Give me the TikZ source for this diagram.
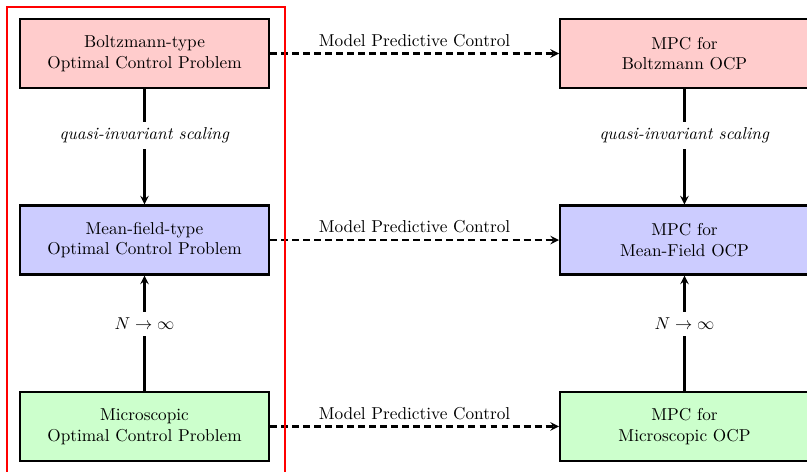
\documentclass[tikz,border=0pt]{standalone}
\usetikzlibrary{positioning}

\begin{document}
\begin{tikzpicture}[>=stealth,
    ocp/.style={draw, very thick, minimum width=5.076cm, minimum height=1.407cm, align=center},
    mpc/.style={->, very thick, dash pattern=on 4pt off 2.4pt},
    lim/.style={very thick}]
    \clip (0,0) rectangle (16.459,-9.606);
    \useasboundingbox (0,0) rectangle (16.459,-9.606);

    % left column
    \node (BoltzOCP) [ocp, fill=red!20] at (2.947,-1.091) {Boltzmann-type\\Optimal Control Problem};
    \node (MeanOCP) [ocp, fill=blue!20] at (2.947,-4.895) {Mean-field-type\\Optimal Control Problem};
    \node (MicroOCP) [ocp, fill=green!20] at (2.947,-8.698) {Microscopic\\Optimal Control Problem};

    % right column
    \node (BoltzMPC) [ocp, fill=red!20] at (13.960,-1.091) {MPC for\\Boltzmann OCP};
    \node (MeanMPC) [ocp, fill=blue!20] at (13.960,-4.895) {MPC for\\Mean-Field OCP};
    \node (MicroMPC) [ocp, fill=green!20] at (13.960,-8.698) {MPC for\\Microscopic OCP};

    % limits
    \draw[->, lim] (BoltzOCP) -- node[pos=0.4, fill=white] {\textit{quasi-invariant scaling}} (MeanOCP);
    \draw[<-, lim] (MeanOCP) -- node[pos=0.42, fill=white] {$N \to \infty$} (MicroOCP);
    \draw[->, lim] (BoltzMPC) -- node[pos=0.4, fill=white] {\textit{quasi-invariant scaling}} (MeanMPC);
    \draw[<-, lim] (MeanMPC) -- node[pos=0.42, fill=white] {$N \to \infty$} (MicroMPC);

    % model predictive control
    \draw[mpc] (BoltzOCP) -- node[above] {Model Predictive Control} (BoltzMPC);
    \draw[mpc] (MeanOCP) -- node[above] {Model Predictive Control} (MeanMPC);
    \draw[mpc] (MicroOCP) -- node[above] {Model Predictive Control} (MicroMPC);

    % frame
    \draw[red, line width=1.6pt] (0.143,-10.1) rectangle (5.812,-0.143);
\end{tikzpicture}
\end{document}
